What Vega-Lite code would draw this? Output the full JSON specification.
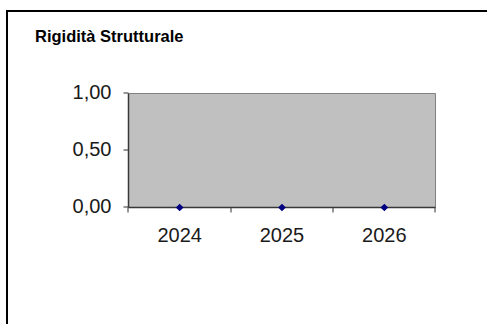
{
  "$schema": "https://vega.github.io/schema/vega-lite/v6.json",
  "width": 480,
  "height": 313,
  "autosize": "none",
  "padding": {"left": 7, "top": 11, "right": 0, "bottom": 0},
  "background": "white",
  "config": {"view": {"stroke": null}, "font": "Liberation Sans"},
  "title": {
    "text": "Rigidità Strutturale",
    "anchor": "start",
    "frame": "group",
    "baseline": "alphabetic",
    "offset": 0,
    "dx": 28,
    "dy": 49,
    "font": "Liberation Sans",
    "fontSize": 16.5,
    "fontWeight": "bold",
    "color": "#000000"
  },
  "layer": [
    {
      "description": "grey plot area",
      "data": {"values": [{}]},
      "mark": {"type": "rect", "fill": "#C0C0C0", "stroke": "#808080", "strokeWidth": 1},
      "encoding": {
        "x": {"datum": 2023.5, "type": "quantitative", "scale": {"domain": [2022.3127, 2027.0033], "nice": false, "zero": false}},
        "x2": {"datum": 2026.5},
        "y": {"datum": 0, "type": "quantitative", "scale": {"domain": [-1.02193, 1.72368], "nice": false, "zero": false}},
        "y2": {"datum": 1}
      }
    },
    {
      "description": "category axis line",
      "data": {"values": [{}]},
      "mark": {"type": "rule", "stroke": "#383838", "strokeWidth": 1.6},
      "encoding": {
        "x": {"datum": 2023.5, "type": "quantitative", "scale": {"domain": [2022.3127, 2027.0033], "nice": false, "zero": false}},
        "x2": {"datum": 2026.5},
        "y": {"datum": 0, "type": "quantitative", "scale": {"domain": [-1.02193, 1.72368], "nice": false, "zero": false}}
      }
    },
    {
      "description": "value axis line",
      "data": {"values": [{}]},
      "mark": {"type": "rule", "stroke": "#383838", "strokeWidth": 1.5},
      "encoding": {
        "x": {"datum": 2023.5, "type": "quantitative", "scale": {"domain": [2022.3127, 2027.0033], "nice": false, "zero": false}},
        "y": {"datum": 0, "type": "quantitative", "scale": {"domain": [-1.02193, 1.72368], "nice": false, "zero": false}},
        "y2": {"datum": 1}
      }
    },
    {
      "description": "chart frame, left edge",
      "data": {"values": [{}]},
      "mark": {"type": "rule", "stroke": "#000000", "strokeWidth": 2, "strokeCap": "square"},
      "encoding": {
        "x": {"datum": 2022.3127, "type": "quantitative", "scale": {"domain": [2022.3127, 2027.0033], "nice": false, "zero": false}},
        "y": {"datum": 1.72368, "type": "quantitative", "scale": {"domain": [-1.02193, 1.72368], "nice": false, "zero": false}},
        "y2": {"datum": -1.02193}
      }
    },
    {
      "description": "chart frame, top edge",
      "data": {"values": [{}]},
      "mark": {"type": "rule", "stroke": "#000000", "strokeWidth": 2, "strokeCap": "square"},
      "encoding": {
        "x": {"datum": 2022.3127, "type": "quantitative", "scale": {"domain": [2022.3127, 2027.0033], "nice": false, "zero": false}},
        "x2": {"datum": 2027.0033},
        "y": {"datum": 1.72368, "type": "quantitative", "scale": {"domain": [-1.02193, 1.72368], "nice": false, "zero": false}}
      }
    },
    {
      "description": "yearly values",
      "data": {"values": [
        {"anno": 2024, "valore": 0},
        {"anno": 2025, "valore": 0},
        {"anno": 2026, "valore": 0}
      ]},
      "mark": {"type": "point", "shape": "diamond", "filled": true, "color": "#000080", "size": 60, "opacity": 1},
      "encoding": {
        "x": {
          "field": "anno",
          "type": "quantitative",
          "scale": {"domain": [2022.3127, 2027.0033], "nice": false, "zero": false},
          "axis": {
            "orient": "bottom",
            "offset": -116.5,
            "translate": 0,
            "values": [2023.5, 2024, 2024.5, 2025, 2025.5, 2026, 2026.5],
            "domain": false,
            "grid": false,
            "tickSize": 5,
            "tickWidth": 1,
            "tickColor": "#303030",
            "tickOpacity": {"condition": {"test": "datum.value % 1 === 0", "value": 0}, "value": 1},
            "labelExpr": "datum.value % 1 === 0 ? format(datum.value, 'd') : ''",
            "labelFont": "Liberation Sans",
            "labelFontSize": 20,
            "labelColor": "#1a1a1a",
            "labelPadding": 13,
            "labelFlush": false,
            "labelOverlap": false,
            "title": null
          }
        },
        "y": {
          "field": "valore",
          "type": "quantitative",
          "scale": {"domain": [-1.02193, 1.72368], "nice": false, "zero": false},
          "axis": {
            "orient": "left",
            "offset": -121.5,
            "translate": 0,
            "values": [0, 0.5, 1],
            "domain": false,
            "grid": false,
            "tickSize": 5,
            "tickWidth": 1,
            "tickColor": "#303030",
            "labelExpr": "replace(format(datum.value, '.2f'), '.', ',')",
            "labelFont": "Liberation Sans",
            "labelFontSize": 20,
            "labelColor": "#1a1a1a",
            "labelPadding": 12,
            "labelFlush": false,
            "labelOverlap": false,
            "title": null
          }
        }
      }
    }
  ]
}
